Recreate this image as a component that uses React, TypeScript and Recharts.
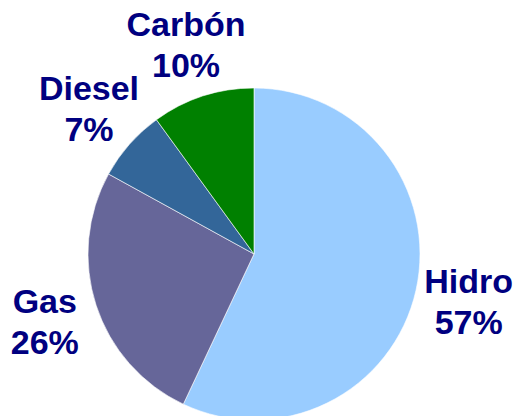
import { Cell, Pie, PieChart } from 'recharts'

const sources = ['Hidro', 'Gas', 'Diesel', 'Carbón']
const shares = [57, 26, 7, 10]
const colors = ['#99CCFF', '#666699', '#336699', '#008000']

const data = sources.map((name, i) => ({ name, value: shares[i] }))

const RAD = Math.PI / 180

function SliceLabel(props: any) {
  const { cx, cy, midAngle, outerRadius, name, value } = props
  const r = outerRadius + 54
  const x = cx + r * Math.cos(-midAngle * RAD)
  const y = cy + r * Math.sin(-midAngle * RAD)

  return (
    <text
      x={x}
      y={y}
      textAnchor="middle"
      fill="#000080"
      fontFamily="'Liberation Sans', Arial, sans-serif"
      fontWeight="bold"
      fontSize={34}
    >
      <tspan x={x} y={y - 9}>{name}</tspan>
      <tspan x={x} y={y + 32}>{`${value}%`}</tspan>
    </text>
  )
}

export default function App() {
  // pinned to the page corner so the body margin doesn't shift it
  return (
    <div style={{ position: 'absolute', top: 0, left: 0, width: 528, height: 416 }}>
      <PieChart width={528} height={416} margin={{ top: 0, right: 0, bottom: 0, left: 0 }}>
        <Pie
          data={data}
          dataKey="value"
          nameKey="name"
          cx={254}
          cy={254}
          outerRadius={166}
          startAngle={90}
          endAngle={-270}
          stroke="#ffffff"
          strokeWidth={0.6}
          label={SliceLabel}
          labelLine={false}
          isAnimationActive={false}
        >
          {data.map((entry, i) => (
            <Cell key={entry.name} fill={colors[i]} />
          ))}
        </Pie>
      </PieChart>
    </div>
  )
}
